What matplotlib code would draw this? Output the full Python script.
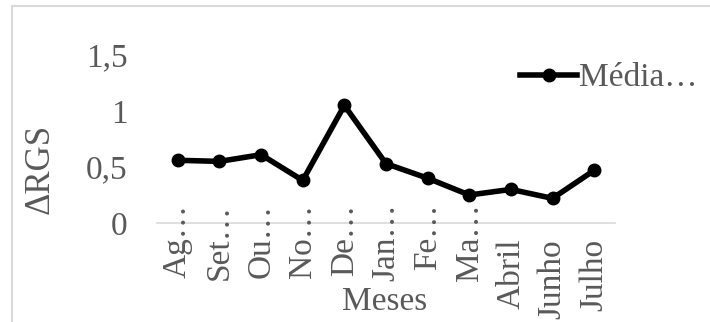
from matplotlib import pyplot as plt
from matplotlib.patches import Rectangle
import numpy as np

meses = ['Ag…', 'Set…', 'Ou…', 'No…', 'De…', 'Jan…', 'Fe…', 'Ma…', 'Abril', 'Junho', 'Julho']
media = [0.56, 0.55, 0.61, 0.38, 1.05, 0.53, 0.40, 0.25, 0.30, 0.22, 0.47]

plt.rcParams['font.family'] = ['Liberation Serif', 'DejaVu Serif']
cinza = '#595959'
fs = 24

fig = plt.figure(figsize = (7.10, 3.22), dpi = 100)

# moldura da área do gráfico (cortada à direita e embaixo)
fig.patches.append(Rectangle((12 / 710, -0.1), 1.2, 1.1 - 6 / 322, transform = fig.transFigure,
                             fill = False, ec = '#d9d9d9', lw = 1.5))

ax1 = fig.add_axes([157 / 710, 1 - 223 / 322, (615 - 157) / 710, 168 / 322])

x = np.arange(len(meses))
ax1.plot(x, media, color = 'k', lw = 4, marker = 'o', markersize = 9, label = 'Média…')

ax1.set_xlim(-0.5, len(meses) - 0.5)
ax1.set_ylim(0, 1.5)
ax1.set_yticks([0, 0.5, 1, 1.5])
ax1.set_yticklabels(['0', '0,5', '1', '1,5'])
ax1.set_xticks(x)
ax1.set_xticklabels([])

# rótulos dos meses: os abreviados começam acima do eixo
for xi, m in zip(x, meses):
    y0 = 0.115 if m.endswith('…') else -0.095
    ax1.text(xi, y0, m, transform = ax1.get_xaxis_transform(), rotation = 90,
             ha = 'center', va = 'top', fontsize = fs, color = cinza)

for s in ['top', 'right', 'left']:
    ax1.spines[s].set_visible(False)
ax1.spines['bottom'].set_color('#d9d9d9')
ax1.spines['bottom'].set_linewidth(1.2)

ax1.tick_params(axis = 'both', length = 0, labelsize = fs, labelcolor = cinza)
ax1.tick_params(axis = 'y', pad = 21)

ax1.set_xlabel('Meses', fontsize = fs, color = cinza, va = 'center')
ax1.xaxis.set_label_coords(0.496, -0.47)
ax1.set_ylabel('ΔRGS', fontsize = 25, color = cinza, va = 'center')
ax1.yaxis.set_label_coords(-0.255, 0.32)

ax1.legend(loc = 'center left', bbox_to_anchor = (0.793, 0.863), frameon = False, fontsize = fs,
           labelcolor = cinza, handlelength = 1.7, handletextpad = 0.05, borderpad = 0,
           borderaxespad = 0)

fig.savefig('out.png', dpi = 100)
